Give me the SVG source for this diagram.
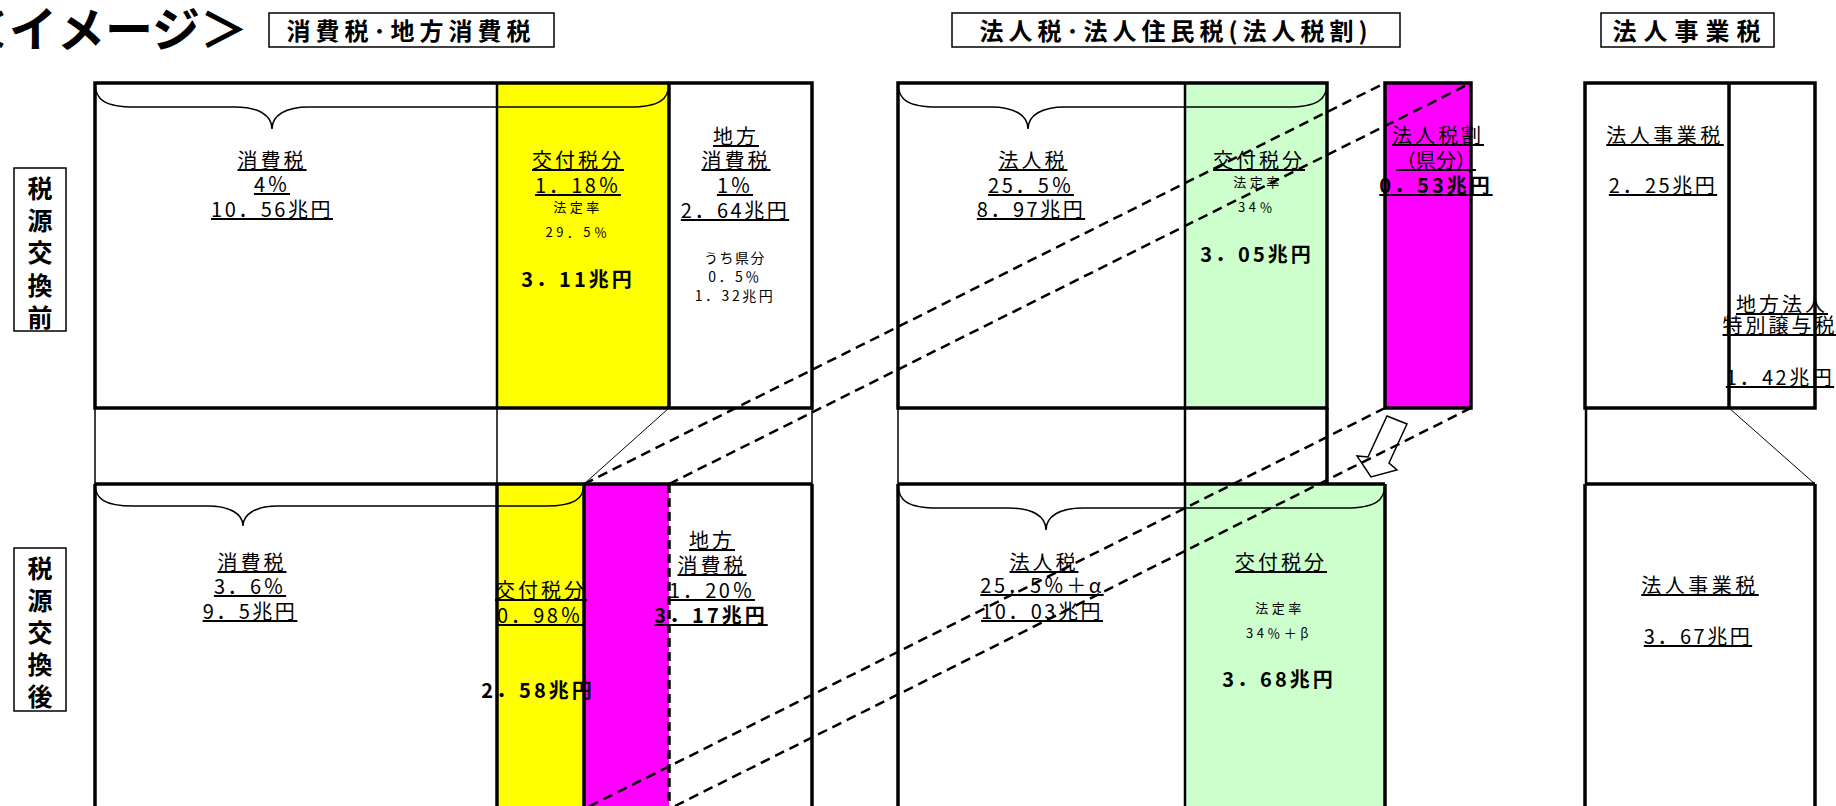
<svg xmlns="http://www.w3.org/2000/svg" width="1836" height="806" viewBox="0 0 1836 806">
<style>
text{font-family:"Noto Sans CJK JP","Noto Sans",sans-serif;fill:#000}
.t{font-size:20px;text-anchor:middle}
.u{text-decoration:underline}
.k{letter-spacing:3px}
.n{letter-spacing:2.5px}
.b{font-weight:bold;letter-spacing:3px}
.s{font-size:13px;letter-spacing:3.5px}
.m{font-size:14px;letter-spacing:2.5px}
.hd{font-size:24px;font-weight:bold;text-anchor:middle}
.vl{font-size:25px;font-weight:bold;text-anchor:middle}
.bold{stroke:#000;stroke-width:3.5;fill:none}
.med{stroke:#000;stroke-width:2.5;fill:none}
.thin{stroke:#000;stroke-width:1.5;fill:none}
.hair{stroke:#000;stroke-width:1;fill:none}
.brace{stroke:#000;stroke-width:1.5;fill:none}
.dash{stroke:#000;stroke-width:2.5;stroke-dasharray:10 6;fill:none}
.yel{fill:#ffff00}
.mag{fill:#ff00ff}
.grn{fill:#ccffcc}
</style>

<g id="title">
<text x="248" y="47" style="font-size:48px;font-weight:bold;text-anchor:end">＜イメージ＞</text>
</g>

<g id="header-consumption">
<rect x="269" y="13" width="285" height="34" class="thin"/>
<text x="411" y="40" class="hd" style="letter-spacing:5px">消費税･地方消費税</text>
</g>
<g id="header-corporate">
<rect x="952" y="13" width="448" height="34" class="thin"/>
<text x="1176" y="40" class="hd" style="letter-spacing:5px">法人税･法人住民税(法人税割)</text>
</g>
<g id="header-business">
<rect x="1601" y="13" width="173" height="34" class="thin"/>
<text x="1690" y="40" class="hd" style="letter-spacing:7px">法人事業税</text>
</g>

<g id="label-before">
<rect x="14" y="168" width="52" height="163" class="thin"/>
<text class="vl"><tspan x="40" y="198">税</tspan><tspan x="40" y="230">源</tspan><tspan x="40" y="262">交</tspan><tspan x="40" y="295">換</tspan><tspan x="40" y="327">前</tspan></text>
</g>
<g id="label-after">
<rect x="14" y="548" width="52" height="163" class="thin"/>
<text class="vl"><tspan x="40" y="578">税</tspan><tspan x="40" y="610">源</tspan><tspan x="40" y="642">交</tspan><tspan x="40" y="674">換</tspan><tspan x="40" y="706">後</tspan></text>
</g>

<g id="consumption-before">
<rect x="497" y="83" width="172" height="325" class="yel"/>
<rect x="95" y="83" width="717" height="325" class="bold"/>
<line x1="497" y1="83" x2="497" y2="408" class="med"/>
<line x1="669" y1="83" x2="669" y2="408" class="bold"/>
<path class="brace" d="M95,83 C95,100 105,107 135,107 L235,107 C258,107 272,115 272,129 C272,115 286,107 309,107 L629,107 C659,107 669,100 669,83"/>
<text class="t u k" x="272" y="168">消費税</text>
<text class="t u n" x="272" y="192">4％</text>
<text class="t u n" x="272" y="217">10．56兆円</text>
<text class="t u k" x="578" y="168">交付税分</text>
<text class="t u n" x="578" y="193">1．18％</text>
<text class="t s" x="578" y="212">法定率</text>
<text class="t s" x="578" y="237">29．5％</text>
<text class="t b" x="578" y="287">3．11兆円</text>
<text class="t u k" x="736" y="144">地方</text>
<text class="t u k" x="736" y="168">消費税</text>
<text class="t u n" x="735" y="193">1％</text>
<text class="t u n" x="735" y="218">2．64兆円</text>
<text class="t m" x="735" y="263" style="letter-spacing:1.5px">うち県分</text>
<text class="t m" x="735" y="282">0．5％</text>
<text class="t m" x="735" y="301">1．32兆円</text>
</g>

<g id="consumption-middle">
<line x1="95" y1="408" x2="95" y2="484" class="thin"/>
<line x1="497" y1="408" x2="497" y2="484" class="thin"/>
<line x1="812" y1="408" x2="812" y2="484" class="thin"/>
<line x1="669" y1="408" x2="584" y2="484" class="hair"/>
</g>

<g id="consumption-after">
<rect x="497" y="484" width="87" height="330" class="yel"/>
<rect x="584" y="484" width="85" height="330" class="mag"/>
<line x1="95" y1="484" x2="812" y2="484" class="bold"/>
<line x1="95" y1="484" x2="95" y2="810" class="bold"/>
<line x1="497" y1="484" x2="497" y2="810" class="bold"/>
<line x1="584" y1="484" x2="584" y2="810" class="bold"/>
<line x1="669" y1="484" x2="669" y2="810" class="bold" style="stroke-dasharray:9 5"/>
<line x1="812" y1="484" x2="812" y2="810" class="bold"/>
<path class="brace" d="M95,484 C95,499 105,506 133,506 L208,506 C230,506 243,514 243,526 C243,514 256,506 278,506 L546,506 C574,506 584,499 584,484"/>
<text class="t u k" x="252" y="570">消費税</text>
<text class="t u n" x="250" y="594">3．6％</text>
<text class="t u n" x="250" y="619">9．5兆円</text>
<text class="t u k" x="541" y="598">交付税分</text>
<text class="t u n" x="540" y="623">0．98％</text>
<text class="t b" x="538" y="698">2．58兆円</text>
<text class="t u k" x="712" y="548">地方</text>
<text class="t u k" x="712" y="573">消費税</text>
<text class="t u n" x="712" y="598">1．20％</text>
<text class="t u b" x="711" y="623">3．17兆円</text>
</g>

<g id="corporate-before">
<rect x="1185" y="83" width="142" height="325" class="grn"/>
<rect x="898" y="83" width="429" height="325" class="bold"/>
<line x1="1185" y1="83" x2="1185" y2="408" class="med"/>
<path class="brace" d="M898,83 C898,100 908,107 938,107 L991,107 C1014,107 1028,115 1028,129 C1028,115 1042,107 1065,107 L1287,107 C1317,107 1327,100 1327,83"/>
<text class="t u k" x="1033" y="168">法人税</text>
<text class="t u n" x="1031" y="193">25．5％</text>
<text class="t u n" x="1031" y="217">8．97兆円</text>
<text class="t u k" x="1259" y="168">交付税分</text>
<text class="t s" x="1258" y="187">法定率</text>
<text class="t s" x="1257" y="212">34％</text>
<text class="t b" x="1257" y="262">3．05兆円</text>
</g>

<g id="corporate-resident">
<rect x="1385" y="83" width="86" height="325" class="mag"/>
<rect x="1385" y="83" width="86" height="325" class="bold"/>
<text class="t u k" x="1438" y="143">法人税割</text>
<text class="t u" x="1436" y="168">（県分）</text>
<text class="t u b" x="1436" y="193">0．53兆円</text>
</g>

<g id="corporate-middle">
<line x1="898" y1="408" x2="898" y2="484" class="thin"/>
<line x1="1185" y1="408" x2="1185" y2="484" class="med"/>
<line x1="1327" y1="408" x2="1327" y2="484" class="bold"/>
</g>

<g id="corporate-after">
<rect x="1185" y="484" width="200" height="330" class="grn"/>
<line x1="898" y1="484" x2="1385" y2="484" class="bold"/>
<line x1="898" y1="484" x2="898" y2="810" class="bold"/>
<line x1="1185" y1="484" x2="1185" y2="810" class="med"/>
<line x1="1385" y1="484" x2="1385" y2="810" class="bold"/>
<path class="brace" d="M898,484 C898,501 908,508 938,508 L1009,508 C1032,508 1046,516 1046,530 C1046,516 1060,508 1083,508 L1345,508 C1375,508 1385,501 1385,484"/>
<text class="t u k" x="1044" y="570">法人税</text>
<text class="t u n" x="1042" y="593">25．5％＋α</text>
<text class="t u n" x="1042" y="619">10．03兆円</text>
<text class="t u k" x="1281" y="570">交付税分</text>
<text class="t s" x="1280" y="613">法定率</text>
<text class="t s" x="1279" y="638">34％＋β</text>
<text class="t b" x="1279" y="687">3．68兆円</text>
</g>

<g id="business-before">
<rect x="1585" y="83" width="230" height="325" class="bold"/>
<line x1="1729" y1="83" x2="1729" y2="408" class="bold"/>
<text class="t u" x="1665" y="143" style="letter-spacing:3.5px">法人事業税</text>
<text class="t u n" x="1663" y="193">2．25兆円</text>
<text class="t u k" x="1782" y="312">地方法人</text>
<text class="t u k" x="1780" y="333">特別譲与税</text>
<text class="t u n" x="1780" y="385">1．42兆円</text>
</g>
<g id="business-middle">
<line x1="1586" y1="408" x2="1586" y2="484" class="med"/>
<line x1="1729" y1="408" x2="1815" y2="484" class="hair"/>
</g>
<g id="business-after">
<line x1="1585" y1="484" x2="1815" y2="484" class="bold"/>
<line x1="1585" y1="484" x2="1585" y2="810" class="bold"/>
<line x1="1815" y1="484" x2="1815" y2="810" class="bold"/>
<text class="t u" x="1700" y="593" style="letter-spacing:3.5px">法人事業税</text>
<text class="t u n" x="1698" y="644">3．67兆円</text>
</g>

<g id="arrow">
<polygon points="1387,416 1407,424 1389,463 1397,470 1371,477 1357,456 1368,457" fill="#fff" stroke="#000" stroke-width="1.5"/>
</g>

<g id="connectors">
<line x1="584" y1="484" x2="1385" y2="83" class="dash"/>
<line x1="669" y1="484" x2="1471" y2="83" class="dash"/>
<line x1="1385" y1="408" x2="584" y2="809" class="dash"/>
<line x1="1471" y1="408" x2="669" y2="809" class="dash"/>
</g>
</svg>
